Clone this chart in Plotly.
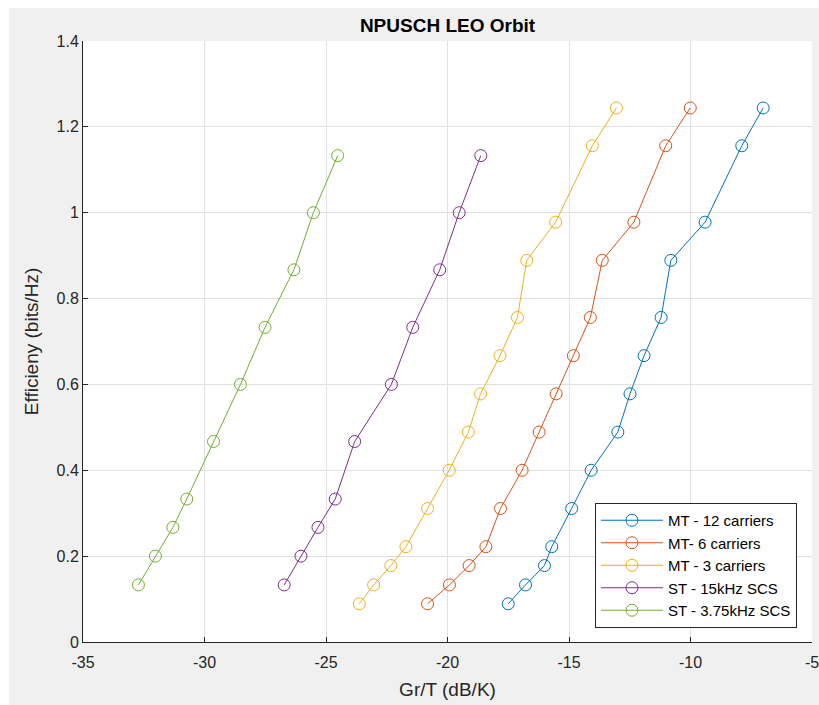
import plotly.graph_objects as go

# Efficiency levels (bits/Hz)
eff_mt = [0.089, 0.133, 0.178, 0.222, 0.311, 0.400, 0.489, 0.578, 0.667, 0.756, 0.889, 0.978, 1.156, 1.244]
eff_st = [0.133, 0.200, 0.267, 0.333, 0.467, 0.600, 0.733, 0.867, 1.000, 1.133]

# Gr/T (dB/K) per series
mt12 = [-17.50, -16.79, -16.01, -15.71, -14.89, -14.09, -12.99, -12.49, -11.91, -11.21, -10.81, -9.40, -7.89, -7.01]
mt6 = [-20.82, -19.92, -19.11, -18.42, -17.82, -16.93, -16.23, -15.53, -14.82, -14.12, -13.63, -12.33, -11.02, -10.01]
mt3 = [-23.63, -23.04, -22.33, -21.71, -20.82, -19.93, -19.14, -18.64, -17.84, -17.12, -16.74, -15.55, -14.04, -13.05]
st15 = [-26.72, -26.03, -25.33, -24.62, -23.82, -22.31, -21.43, -20.32, -19.52, -18.63]
st375 = [-32.72, -32.02, -31.30, -30.73, -29.63, -28.52, -27.51, -26.32, -25.52, -24.52]

names = ["MT - 12 carriers", "MT- 6 carriers", "MT - 3 carriers", "ST - 15kHz SCS", "ST - 3.75kHz SCS"]
colors = ["#0072BD", "#D95319", "#EDB120", "#7E2F8E", "#77AC30"]
xs = [mt12, mt6, mt3, st15, st375]
ys = [eff_mt, eff_mt, eff_mt, eff_st, eff_st]

x_ticks = [-35, -30, -25, -20, -15, -10, -5]
y_ticks = [0, 0.2, 0.4, 0.6, 0.8, 1.0, 1.2, 1.4]
y_tick_labels = ["0", "0.2", "0.4", "0.6", "0.8", "1", "1.2", "1.4"]

FONT = "Liberation Sans, Arial, Helvetica, sans-serif"

fig = go.Figure()
for name, c, x, y in zip(names, colors, xs, ys):
    fig.add_trace(go.Scatter(
        x=x, y=y, name=name, mode="lines+markers",
        line=dict(color=c, width=1),
        marker=dict(symbol="circle-open", size=12, color=c, line=dict(width=1, color=c)),
    ))

axis_common = dict(
    showgrid=True, gridcolor="#e1e1e1", gridwidth=1,
    showline=True, linecolor="#262626", linewidth=1, mirror=False,
    ticks="inside", ticklen=5, tickcolor="#262626",
    zeroline=False, ticklabeloverflow="allow", automargin=False,
    tickfont=dict(family=FONT, size=16, color="#262626"),
)

fig.update_layout(
    width=819, height=705,
    margin=dict(l=83, r=7, t=41, b=63, autoexpand=False),
    paper_bgcolor="#f0f0f0", plot_bgcolor="#ffffff",
    font=dict(family=FONT, color="#262626"),
    title=dict(text="<b>NPUSCH LEO Orbit</b>", x=0.5, xref="paper", xanchor="center",
               y=1 - 25 / 705, yref="container", yanchor="middle",
               font=dict(family=FONT, size=19, color="#000000")),
    xaxis=dict(range=[-35, -5], tickvals=x_ticks, ticktext=[str(v) for v in x_ticks],
               ticklabelstandoff=6,
               title=dict(text="Gr/T (dB/K)", font=dict(family=FONT, size=19, color="#262626"), standoff=12),
               **axis_common),
    yaxis=dict(range=[0, 1.4], tickvals=y_ticks, ticktext=y_tick_labels,
               title=dict(text="Efficieny (bits/Hz)", font=dict(family=FONT, size=19, color="#262626"), standoff=12),
               **axis_common),
    legend=dict(x=0.9794, y=0.0233, xanchor="right", yanchor="bottom",
                bgcolor="#ffffff", bordercolor="#262626", borderwidth=1,
                font=dict(family=FONT, size=15, color="#000000"),
                itemwidth=62, tracegroupgap=0),
    showlegend=True,
    shapes=[
        dict(type="rect", xref="paper", yref="paper", x0=-0.2, x1=1.2,
             y0=1 + (41 - 8) / 601, y1=1.2, fillcolor="#ffffff", line=dict(width=0), layer="below"),
        dict(type="rect", xref="paper", yref="paper", x0=-0.2, x1=(9 - 83) / 729,
             y0=-0.2, y1=1.2, fillcolor="#ffffff", line=dict(width=0), layer="below"),
    ],
)

fig.write_html("out.html")
